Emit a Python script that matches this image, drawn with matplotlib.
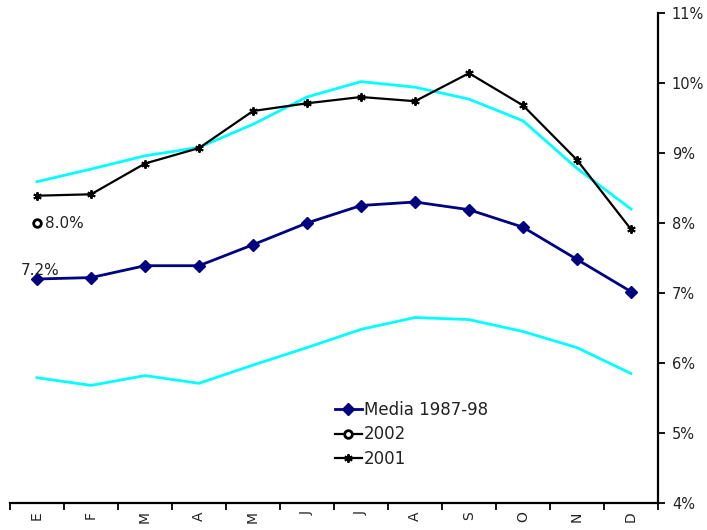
import matplotlib
matplotlib.use("Agg")
import matplotlib.pyplot as plt
from matplotlib.ticker import FuncFormatter, FixedLocator
import numpy as np

months = ["E", "F", "M", "A", "M", "J", "J", "A", "S", "O", "N", "D"]

media_8798 = [7.20, 7.22, 7.39, 7.39, 7.69, 8.00, 8.25, 8.30, 8.19, 7.94, 7.48, 7.02]
y2001 = [8.39, 8.41, 8.85, 9.07, 9.60, 9.71, 9.80, 9.74, 10.14, 9.68, 8.90, 7.91]
banda_sup = [8.59, 8.77, 8.96, 9.08, 9.41, 9.80, 10.02, 9.94, 9.77, 9.46, 8.78, 8.20]
banda_inf = [5.79, 5.68, 5.82, 5.71, 5.97, 6.22, 6.48, 6.65, 6.62, 6.45, 6.22, 5.85]
y2002 = [8.0]

plt.rcParams["font.family"] = ["DejaVu Sans"]
txt_color = "#222222"

fig = plt.figure(figsize=(7.07, 5.30), dpi=100)
ax = fig.add_axes([10 / 707, 27 / 530, 648 / 707, 490 / 530])

x = np.arange(len(months))

ax.plot(x, banda_sup, color="#00FFFF", lw=2.0, zorder=2)
ax.plot(x, banda_inf, color="#00FFFF", lw=2.0, zorder=2)
ln_media, = ax.plot(x, media_8798, color="#000080", lw=2.0, marker="D",
                    markersize=6, label="Media 1987-98", zorder=3)
ln_2002, = ax.plot(x[:len(y2002)], y2002, color="black", lw=1.6, marker="o",
                   markersize=5.5, markerfacecolor="white", markeredgewidth=2.0,
                   label="2002", zorder=4)
ln_2001, = ax.plot(x, y2001, color="black", lw=1.6, marker=(6, 2, 0),
                   markersize=6, markeredgewidth=1.4, label="2001", zorder=3)

# value labels
ax.annotate(f"{y2002[0]:.1f}%", xy=(0, y2002[0]), xytext=(6, 0),
            textcoords="offset points", ha="left", va="center",
            fontsize=11, color=txt_color)
ax.annotate(f"{media_8798[0]:.1f}%", xy=(0, media_8798[0]), xytext=(-11.5, 6),
            textcoords="offset points", ha="left", va="center",
            fontsize=11, color=txt_color)

ax.set_xlim(-0.5, len(months) - 0.5)
ax.set_ylim(4, 11)

# category axis: ticks on the boundaries, labels centred
ax.xaxis.set_major_locator(FixedLocator(np.arange(-0.5, len(months), 1.0)))
ax.xaxis.set_minor_locator(FixedLocator(x))
ax.set_xticklabels([])
ax.set_xticklabels(months, minor=True, rotation=90, fontsize=10, color=txt_color)
ax.tick_params(axis="x", which="major", direction="out", length=5, width=1.3, color="black")
ax.tick_params(axis="x", which="minor", length=0, pad=6)

# value axis on the right
ax.yaxis.tick_right()
ax.set_yticks(np.arange(4, 12, 1))
ax.yaxis.set_major_formatter(FuncFormatter(lambda v, p: f"{v:.0f}%"))
ax.tick_params(axis="y", which="major", direction="out", length=5, width=1.3,
               labelsize=10.5, labelcolor=txt_color, pad=5)

for side in ("left", "top"):
    ax.spines[side].set_visible(False)
for side in ("right", "bottom"):
    ax.spines[side].set_linewidth(1.6)
    ax.spines[side].set_color("black")

leg = fig.legend(handles=[ln_media, ln_2002, ln_2001], loc="upper left",
                 bbox_to_anchor=(335 / 707, 1 - 401 / 530), frameon=False,
                 fontsize=12, handlelength=1.6, handletextpad=0.15,
                 labelspacing=0.38, borderpad=0, borderaxespad=0)
for t in leg.get_texts():
    t.set_color(txt_color)

fig.savefig("out.png", dpi=100)
